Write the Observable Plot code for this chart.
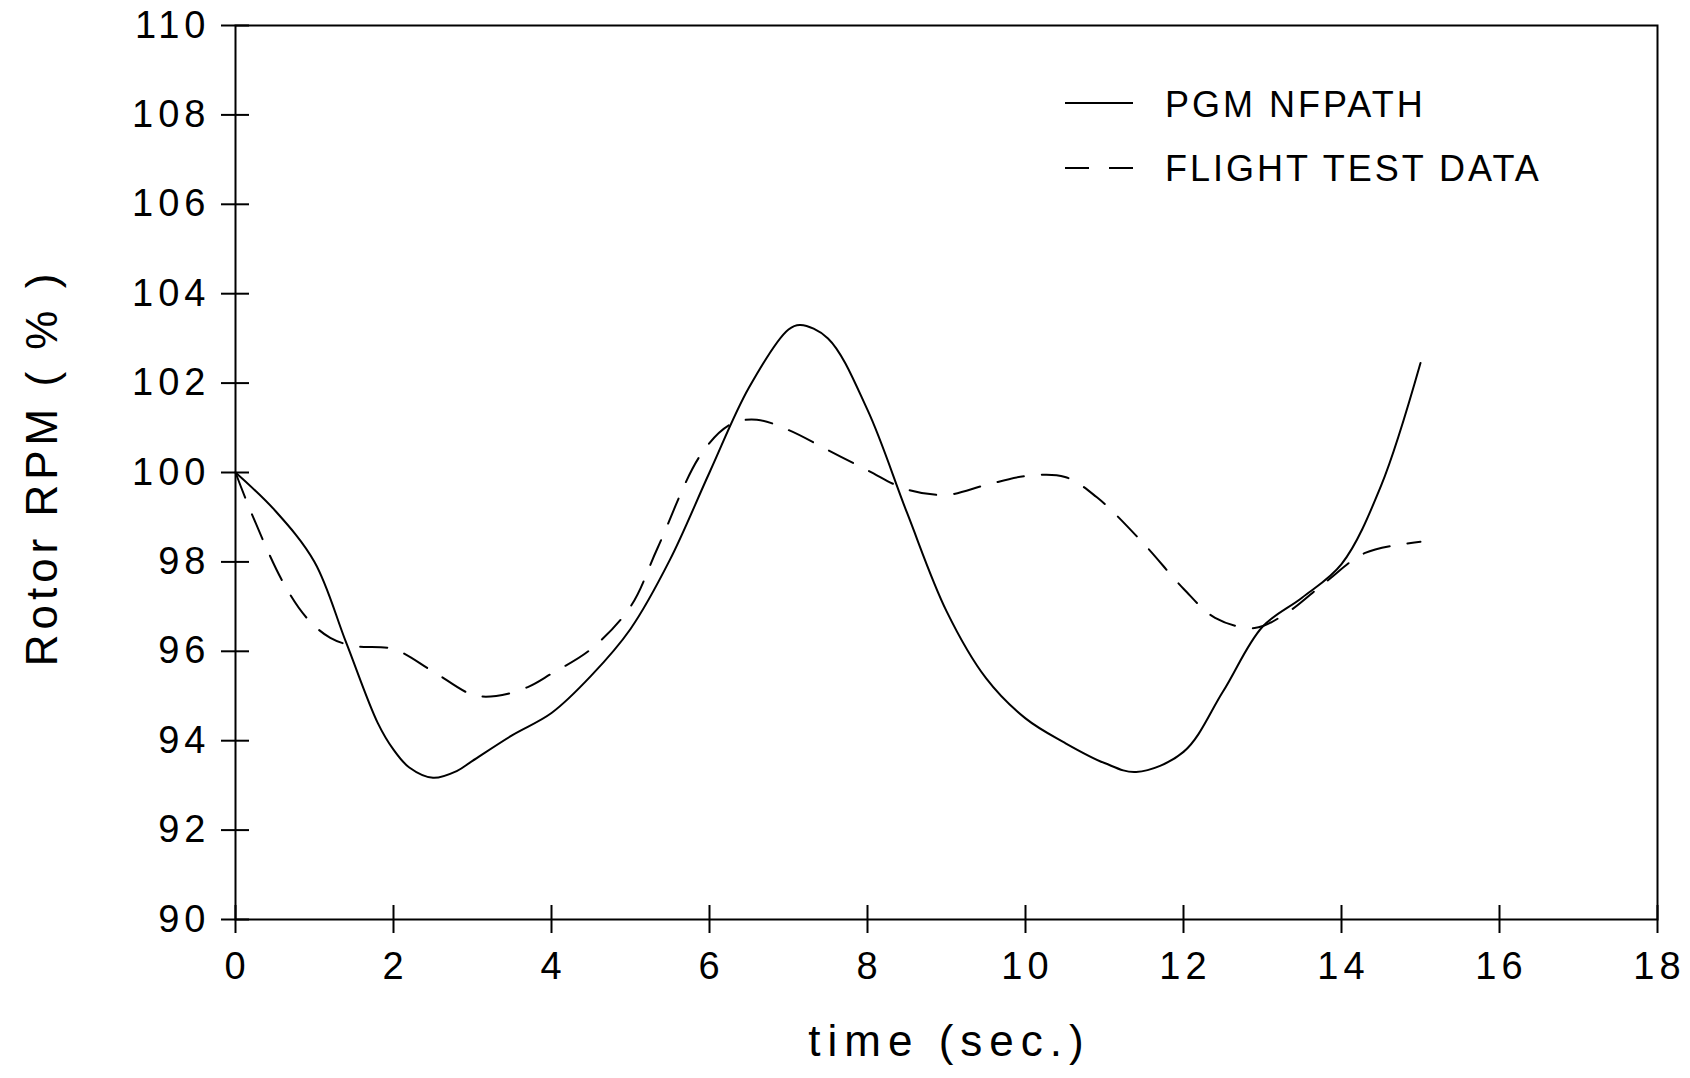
<!DOCTYPE html>
<html>
<head>
<meta charset="utf-8">
<script src="https://cdn.jsdelivr.net/npm/d3@7"></script>
<script src="https://cdn.jsdelivr.net/npm/@observablehq/plot@0.6"></script>
<style>
  html, body { margin: 0; padding: 0; background: #fff; }
  #wrap { position: relative; width: 1690px; height: 1078px; }
  #legend { position: absolute; left: 0; top: 0; pointer-events: none; }
  g[aria-label="y-axis tick label"] text { letter-spacing: 5px; }
  g[aria-label="x-axis tick label"] text { letter-spacing: 5px; }
</style>
</head>
<body>
<div id="wrap"></div>
<script>
// ---- data ----
const xTicks = [0, 2, 4, 6, 8, 10, 12, 14, 16, 18];
const yTicks = [90, 92, 94, 96, 98, 100, 102, 104, 106, 108, 110];

const pgmTime = [0, 0.5, 1.0, 1.4, 1.8, 2.0, 2.2, 2.5, 2.8, 3.0, 3.5, 4.0, 4.5, 5.0, 5.5, 6.0, 6.5, 7.0, 7.15, 7.5, 8.0, 8.5, 9.0, 9.5, 10.0, 10.5, 11.0, 11.4, 12.0, 12.5, 13.0, 13.5, 14.0, 14.5, 15.0];
const pgmRpm  = [100.0, 99.15, 98.0, 96.2, 94.4, 93.8, 93.4, 93.17, 93.32, 93.55, 94.12, 94.62, 95.45, 96.5, 98.05, 100.0, 101.9, 103.2, 103.3, 103.0, 101.4, 99.1, 96.9, 95.4, 94.5, 93.95, 93.5, 93.3, 93.75, 95.1, 96.55, 97.2, 97.95, 99.7, 102.45];

const flightTime = [0, 0.2, 0.6, 0.9, 1.2, 1.5, 2.0, 2.5, 3.0, 3.3, 3.7, 4.0, 4.5, 5.0, 5.34, 5.89, 6.27, 6.6, 7.0, 7.5, 8.0, 8.5, 9.0, 9.5, 10.0, 10.5, 10.9, 11.5, 12.0, 12.4, 12.9, 13.3, 13.8, 14.3, 15.0];
const flightRpm  = [100.0, 99.1, 97.55, 96.75, 96.3, 96.12, 96.05, 95.55, 95.03, 95.0, 95.2, 95.5, 96.05, 97.0, 98.3, 100.4, 101.08, 101.18, 100.95, 100.5, 100.05, 99.62, 99.5, 99.72, 99.92, 99.9, 99.45, 98.4, 97.4, 96.75, 96.52, 96.85, 97.55, 98.2, 98.45];

const seriesNames = ["PGM NFPATH", "FLIGHT TEST DATA"];
const xLabel = "time (sec.)";
const yLabel = "Rotor RPM ( % )";

// ---- build tables ----
const pgm = pgmTime.map((t, i) => ({t, v: pgmRpm[i]}));
const flight = flightTime.map((t, i) => ({t, v: flightRpm[i]}));

const FONT = "'Liberation Sans', Arial, sans-serif";

const chart = Plot.plot({
  width: 1690,
  height: 1078,
  marginLeft: 235,
  marginRight: 33,
  marginTop: 25,
  marginBottom: 159,
  style: {fontFamily: FONT, color: "black", background: "white"},
  x: {domain: [0, 18]},
  y: {domain: [90, 110]},
  marks: [
    Plot.frame({stroke: "black", strokeWidth: 2}),
    // ticks crossing the axes
    Plot.axisX(xTicks, {tickSize: 28, dy: -14, fill: "none", strokeWidth: 2, label: null}),
    Plot.axisY(yTicks, {tickSize: 28, dx: 14, fill: "none", strokeWidth: 2, label: null}),
    // tick labels
    Plot.axisX(xTicks, {tickSize: 14, tickPadding: 19, stroke: "none", fontSize: 38, label: null, dx: 2}),
    Plot.axisY(yTicks, {tickSize: 14, tickPadding: 11, stroke: "none", fontSize: 38, label: null}),
    // axis titles
    Plot.text([xLabel], {text: d => d, frameAnchor: "bottom", dy: 122, dx: 3, lineAnchor: "middle", textAnchor: "middle", fontSize: 44, fill: "black"}),
    Plot.text([yLabel], {text: d => d, frameAnchor: "left", textAnchor: "middle", dx: -193, dy: -5, rotate: -90, lineAnchor: "middle", fontSize: 44, fill: "black"}),
    // series
    Plot.line(flight, {x: "t", y: "v", stroke: "black", strokeWidth: 2, strokeDasharray: "27,18", curve: "catmull-rom"}),
    Plot.line(pgm, {x: "t", y: "v", stroke: "black", strokeWidth: 2, curve: "catmull-rom"})
  ]
});

// letter spacing for the axis titles (plotter-style wide lettering)
d3.select(chart).selectAll("text")
  .filter(function () { return this.textContent === xLabel; })
  .style("letter-spacing", "7px");
d3.select(chart).selectAll("text")
  .filter(function () { return this.textContent === yLabel; })
  .style("letter-spacing", "5px");

const wrap = document.getElementById("wrap");
wrap.appendChild(chart);

// ---- legend overlay ----
const ns = "http://www.w3.org/2000/svg";
const leg = document.createElementNS(ns, "svg");
leg.setAttribute("id", "legend");
leg.setAttribute("width", 1690);
leg.setAttribute("height", 1078);
const entries = [
  {name: seriesNames[0], dash: null, y: 103, base: 117},
  {name: seriesNames[1], dash: "24,20", y: 168, base: 181}
];
for (const e of entries) {
  const ln = document.createElementNS(ns, "line");
  ln.setAttribute("x1", 1065); ln.setAttribute("x2", 1133);
  ln.setAttribute("y1", e.y); ln.setAttribute("y2", e.y);
  ln.setAttribute("stroke", "black"); ln.setAttribute("stroke-width", 2);
  if (e.dash) ln.setAttribute("stroke-dasharray", e.dash);
  leg.appendChild(ln);
  const tx = document.createElementNS(ns, "text");
  tx.setAttribute("x", 1165); tx.setAttribute("y", e.base);
  tx.setAttribute("font-family", FONT);
  tx.setAttribute("font-size", 36);
  tx.setAttribute("letter-spacing", "3px");
  tx.setAttribute("fill", "black");
  tx.textContent = e.name;
  leg.appendChild(tx);
}
wrap.appendChild(leg);
</script>
</body>
</html>
